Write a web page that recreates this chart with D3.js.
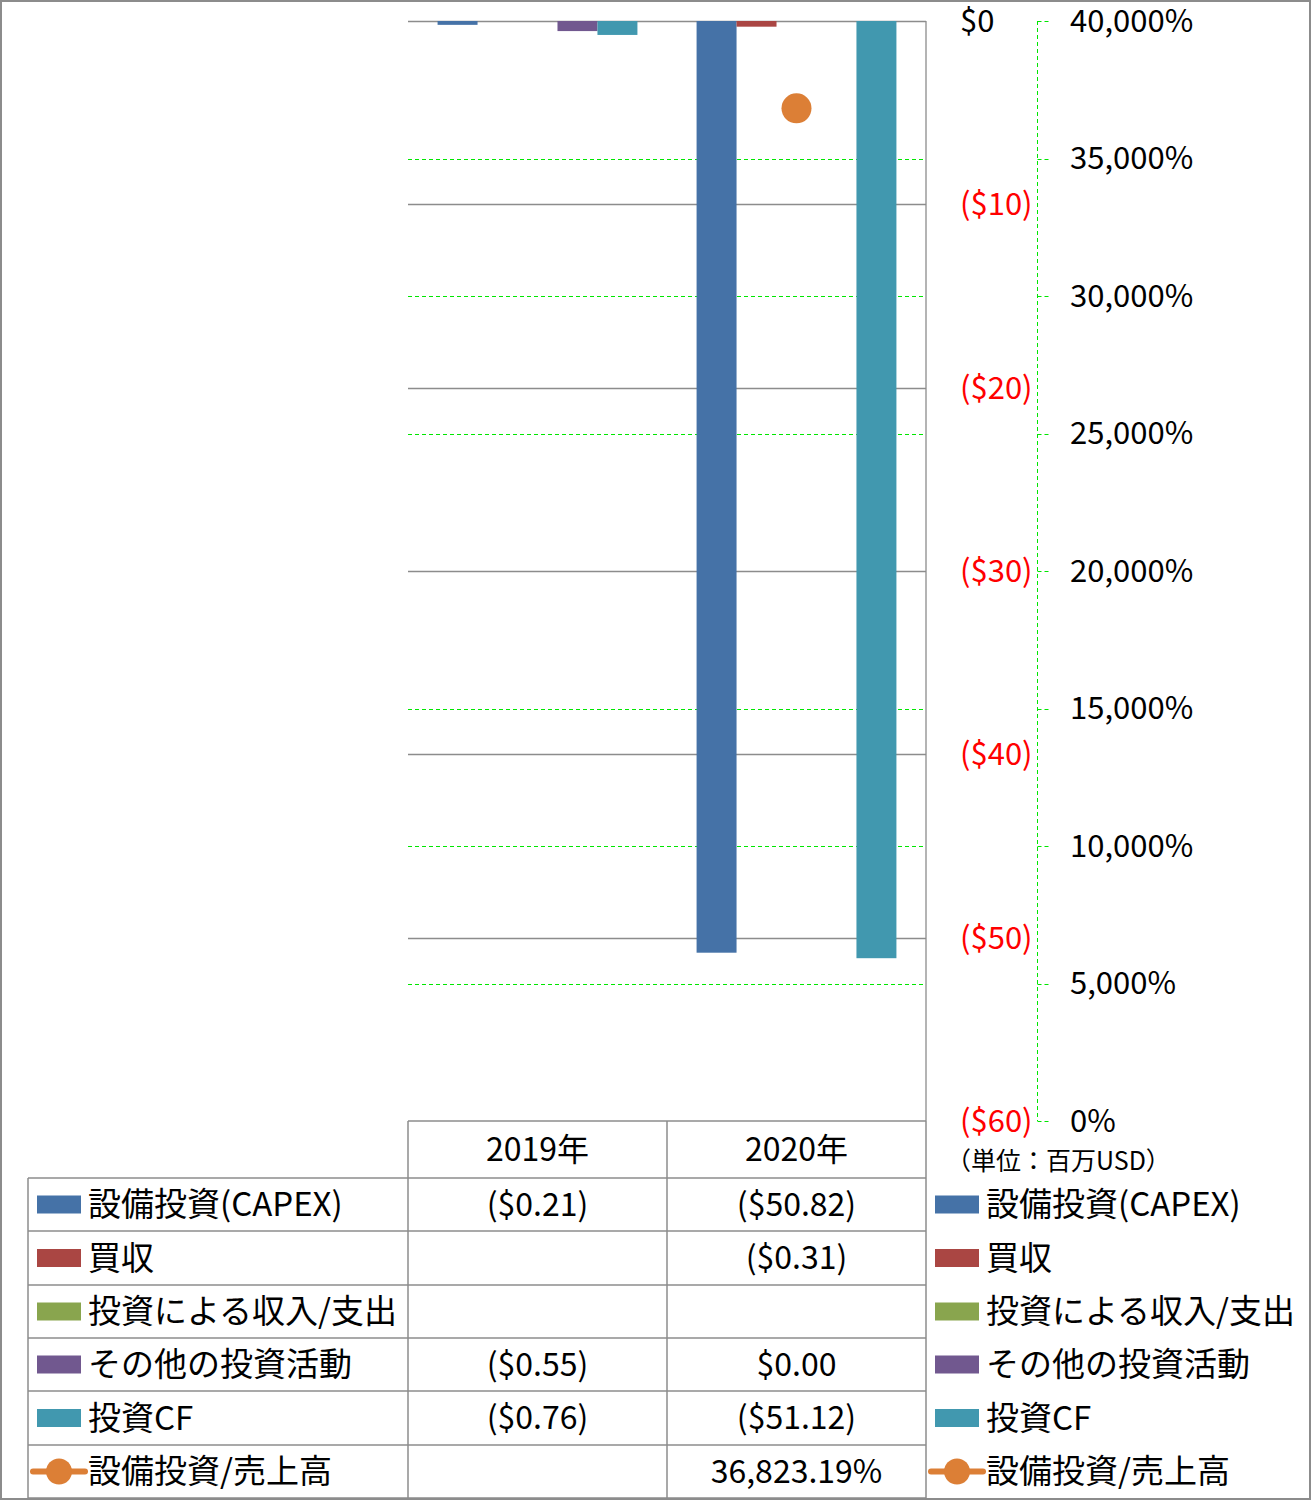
<!DOCTYPE html>
<html>
<head>
<meta charset="utf-8">
<script src="https://cdn.jsdelivr.net/npm/d3@7"></script>
<style>
  body { margin: 0; background: #fff; }
  text { font-family: "Noto Sans CJK JP", "Noto Sans", sans-serif; }
</style>
</head>
<body>
<div id="chart"></div>
<script>
// data
const years = ["2019年", "2020年"];
const seriesNames = ["設備投資(CAPEX)", "買収", "投資による収入/支出", "その他の投資活動", "投資CF"];
const seriesColors = ["#4572a7", "#aa4643", "#89a54e", "#71588f", "#4198af"];
const capex = [-0.21, -50.82];
const acquisitions = [null, -0.31];
const investIncome = [null, null];
const otherInvest = [-0.55, 0.00];
const investCF = [-0.76, -51.12];
const capexToSales = [null, 36823.19];
const ratioName = "設備投資/売上高";
const ratioColor = "#dc7f36";
const yTicks = [0, -10, -20, -30, -40, -50, -60];
const y2Ticks = [0, 5000, 10000, 15000, 20000, 25000, 30000, 35000, 40000];
const unitLabel = "（単位：百万USD）";

const ctx = {
    w: 1311, h: 1500,
    plot: {left: 408, right: 926, top: 21, bottom: 1121},
    legendLeft: 28,
    rowsY: [1178, 1231, 1285, 1338, 1391, 1445, 1498],
    axisFont: 31,
    cellFont: 32,
    labelFont: 33,
    grey: "#8c8c8c",
    green: "#00e600"
};

const allSeries = [capex, acquisitions, investIncome, otherInvest, investCF];

const svg = d3.select("#chart").append("svg")
    .attr("width", ctx.w)
    .attr("height", ctx.h);

let y = d3.scaleLinear().domain([-60, 0]).range([ctx.plot.bottom, ctx.plot.top]);
let y2 = d3.scaleLinear().domain([0, 40000]).range([ctx.plot.bottom, ctx.plot.top]);
let x0 = d3.scaleBand().domain(years).range([ctx.plot.left, ctx.plot.right]).padding(0);
let x1 = d3.scaleBand().domain(seriesNames).range([0, x0.bandwidth()])
    .paddingInner(0).paddingOuter(0.74);

// crisp 1px lines
const crisp = v => Math.round(v) + 0.5;

function fmtMoney(v) {
    if (v === null) return "";
    let s = "$" + Math.abs(v).toFixed(2);
    return v < 0 ? "(" + s + ")" : s;
}
function fmtAxis(v) {
    return v < 0 ? "($" + Math.abs(v) + ")" : "$" + v;
}

// secondary gridlines (green dashed)
svg.append("g").selectAll("line")
    .data(y2Ticks.filter(d => d > 0 && d < 40000))
    .enter().append("line")
    .attr("x1", ctx.plot.left).attr("x2", ctx.plot.right)
    .attr("y1", d => crisp(y2(d))).attr("y2", d => crisp(y2(d)))
    .attr("stroke", ctx.green)
    .attr("stroke-width", 1)
    .attr("stroke-dasharray", "4,3");

// primary gridlines
svg.append("g").selectAll("line")
    .data(yTicks.filter(d => d > -60))
    .enter().append("line")
    .attr("x1", ctx.plot.left).attr("x2", ctx.plot.right)
    .attr("y1", d => crisp(y(d))).attr("y2", d => crisp(y(d)))
    .attr("stroke", ctx.grey)
    .attr("stroke-width", 1.3);

// plot right border
svg.append("line")
    .attr("x1", ctx.plot.right).attr("x2", ctx.plot.right)
    .attr("y1", ctx.plot.top).attr("y2", ctx.plot.bottom)
    .attr("stroke", ctx.grey).attr("stroke-width", 1.3);

// bars
let barData = [];
years.forEach((yr, i) => {
    allSeries.forEach((s, j) => {
        if (s[i] !== null && s[i] !== 0) {
            barData.push({year: yr, key: seriesNames[j], value: s[i], color: seriesColors[j]});
        }
    });
});
svg.append("g").selectAll("rect")
    .data(barData)
    .enter().append("rect")
    .attr("x", d => x0(d.year) + x1(d.key))
    .attr("width", x1.bandwidth())
    .attr("y", d => y(Math.max(0, d.value)))
    .attr("height", d => Math.abs(y(d.value) - y(0)))
    .attr("fill", d => d.color);

// ratio points
svg.append("g").selectAll("circle")
    .data(years.map((yr, i) => ({year: yr, value: capexToSales[i]})).filter(d => d.value !== null))
    .enter().append("circle")
    .attr("cx", d => x0(d.year) + x0.bandwidth() / 2)
    .attr("cy", d => y2(d.value))
    .attr("r", 15)
    .attr("fill", ratioColor);

// primary axis labels
svg.append("g").selectAll("text")
    .data(yTicks)
    .enter().append("text")
    .attr("x", 960)
    .attr("y", d => y(d))
    .attr("dy", "0.35em")
    .style("font-size", ctx.axisFont + "px")
    .attr("fill", d => d < 0 ? "#ff0000" : "#000")
    .text(d => fmtAxis(d));

// secondary axis
let axisX = 1037.5;
svg.append("line")
    .attr("x1", axisX).attr("x2", axisX)
    .attr("y1", y2(40000)).attr("y2", y2(0))
    .attr("stroke", ctx.green).attr("stroke-dasharray", "4,3");
svg.append("g").selectAll("line")
    .data(y2Ticks)
    .enter().append("line")
    .attr("x1", axisX).attr("x2", axisX + 11)
    .attr("y1", d => crisp(y2(d))).attr("y2", d => crisp(y2(d)))
    .attr("stroke", ctx.green).attr("stroke-dasharray", "4,3");
svg.append("g").selectAll("text")
    .data(y2Ticks)
    .enter().append("text")
    .attr("x", 1070)
    .attr("y", d => y2(d))
    .attr("dy", "0.35em")
    .style("font-size", ctx.axisFont + "px")
    .text(d => d3.format(",")(d) + "%");

svg.append("text")
    .attr("x", 946).attr("y", 1161)
    .attr("dy", "0.35em")
    .style("font-size", "25px")
    .text(unitLabel);

// data table
let tableG = svg.append("g").attr("id", "table");
let rowsY = ctx.rowsY;
let lineStyle = sel => sel.attr("stroke", ctx.grey).attr("stroke-width", 1.5);

// header
tableG.append("line").call(lineStyle)
    .attr("x1", ctx.plot.left).attr("x2", ctx.plot.right)
    .attr("y1", ctx.plot.bottom).attr("y2", ctx.plot.bottom);
rowsY.forEach(ry => {
    tableG.append("line").call(lineStyle)
        .attr("x1", ctx.legendLeft).attr("x2", ctx.plot.right)
        .attr("y1", ry).attr("y2", ry);
});
tableG.append("line").call(lineStyle)
    .attr("x1", ctx.legendLeft).attr("x2", ctx.legendLeft)
    .attr("y1", rowsY[0]).attr("y2", rowsY[rowsY.length - 1]);
[ctx.plot.left, x0("2020年"), ctx.plot.right].forEach(vx => {
    tableG.append("line").call(lineStyle)
        .attr("x1", vx).attr("x2", vx)
        .attr("y1", ctx.plot.bottom).attr("y2", rowsY[rowsY.length - 1]);
});

tableG.selectAll(".yearLabel")
    .data(years)
    .enter().append("text")
    .attr("class", "yearLabel")
    .attr("x", d => x0(d) + x0.bandwidth() / 2)
    .attr("y", (ctx.plot.bottom + rowsY[0]) / 2)
    .attr("dy", "0.35em")
    .attr("text-anchor", "middle")
    .style("font-size", ctx.cellFont + "px")
    .text(d => d);

let rows = seriesNames.map((name, j) => ({
    name: name, color: seriesColors[j], type: "bar",
    cells: allSeries[j].map(fmtMoney)
}));
rows.push({
    name: ratioName, color: ratioColor, type: "line",
    cells: capexToSales.map(v => v === null ? "" : d3.format(",.2f")(v) + "%")
});

function drawKey(g, row, x, cy) {
    if (row.type === "bar") {
        g.append("rect")
            .attr("x", x).attr("y", cy - 9)
            .attr("width", 44).attr("height", 18)
            .attr("fill", row.color);
    } else {
        g.append("line")
            .attr("x1", x - 4).attr("x2", x + 48)
            .attr("y1", cy).attr("y2", cy)
            .attr("stroke", row.color).attr("stroke-width", 6)
            .attr("stroke-linecap", "round");
        g.append("circle")
            .attr("cx", x + 22).attr("cy", cy)
            .attr("r", 13).attr("fill", row.color);
    }
    g.append("text")
        .attr("x", x + 51).attr("y", cy)
        .attr("dy", "0.35em")
        .style("font-size", ctx.labelFont + "px")
        .text(row.name);
}

rows.forEach((row, i) => {
    let cy = (rowsY[i] + rowsY[i + 1]) / 2;
    drawKey(tableG, row, 37, cy);
    drawKey(tableG, row, 935, cy);
    row.cells.forEach((c, k) => {
        tableG.append("text")
            .attr("x", x0(years[k]) + x0.bandwidth() / 2)
            .attr("y", cy)
            .attr("dy", "0.35em")
            .attr("text-anchor", "middle")
            .style("font-size", ctx.cellFont + "px")
            .text(c);
    });
});

// outer border
svg.append("rect")
    .attr("x", 1).attr("y", 1)
    .attr("width", ctx.w - 2).attr("height", ctx.h - 2)
    .attr("fill", "none")
    .attr("stroke", ctx.grey).attr("stroke-width", 2);
</script>
</body>
</html>
